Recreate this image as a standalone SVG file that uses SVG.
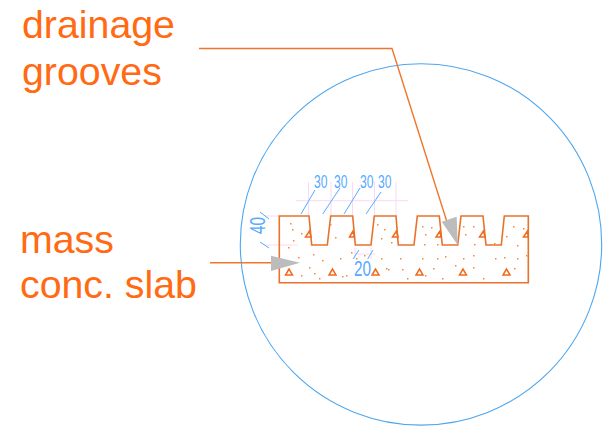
<svg xmlns="http://www.w3.org/2000/svg" width="604" height="427" viewBox="0 0 604 427">
<style>
.lbl{font-family:"Liberation Sans",Arial,sans-serif;font-size:39.300px;fill:#ff6a13}
.dim{font-family:"Liberation Sans",Arial,sans-serif;font-size:18.500px;fill:#55aaff}
.big{font-size:22px}
.o{fill:none;stroke:#e8722c;stroke-width:1.6}
.t{fill:none;stroke:#f26a1b;stroke-width:1.5}
.p{fill:none;stroke:#fbd8f5;stroke-width:1}
.b{fill:none;stroke:#55aaff;stroke-width:1}
.d{fill:#f4883f}
.h{fill:#bcbcbc}
.l{fill:none;stroke:#f0762c;stroke-width:1.4}
</style>
<rect width="604" height="427" fill="#fff"/>
<circle cx="421" cy="244.400" r="180.700" fill="none" stroke="#4ea6ee" stroke-width="1.100"/>
<g id="dimensions">
<path class="p" d="M296 200.700H408M308.500 182V216M331 182V216M352.500 182V216M374.500 182V216M396 182V216M265 216H279M265 245H298M355 254H375M355 248V259M371 248V259"/>
<path class="b" d="M301 214L315 190M322.700 214L340 188M344 214L360 188M366 214L381 192M260 212L269 219M260 242L269 248M353 259L359 250M367.700 259L373 250"/>
<text class="dim" transform="translate(314 188) scale(.655 1)">30</text>
<text class="dim" transform="translate(334 188) scale(.655 1)">30</text>
<text class="dim" transform="translate(360 188) scale(.655 1)">30</text>
<text class="dim" transform="translate(378 188) scale(.655 1)">30</text>
<text class="dim big" transform="translate(354 276) scale(.695 1)">20</text>
<text class="dim big" transform="translate(265 234) rotate(-90) scale(.695 1)">40</text>
</g>
<g id="slab">
<path class="o" d="M279.300 216V282.700H528.300V216H504.300L501.300 245H486L483 216H461L457.700 245H442.300L439.300 216H417.300L414 245H398.300L396 216H374.300L371 245H355.300L352.700 216H330.700L327.300 245H311.700L309 216Z"/>
<path class="t" d="M285.500 275H292.500L289 269ZM329 275H336L332.500 269ZM372 275H379L375.500 269ZM416 275H423L419.500 269ZM459.500 275H466.500L463 269ZM503 275H510L506.500 269Z"/>
<path class="t" d="M309.500 231L305.500 237H311ZM353 231L349.500 237H354.500ZM396.500 231L392.500 237H398ZM440 231L436 237H441ZM483.500 231L479.500 237H485ZM527.500 231L523.500 237H528.300Z"/>
<g class="d">
<rect x="290" y="223" width="1.500" height="1.500"/><rect x="292" y="229" width="1.500" height="1.500"/><rect x="301" y="233" width="1.500" height="1.500"/><rect x="288" y="247" width="1.500" height="1.500"/><rect x="293" y="240" width="1.500" height="1.500"/><rect x="298" y="257" width="1.500" height="1.500"/><rect x="313" y="254" width="1.500" height="1.500"/><rect x="309" y="267" width="1.500" height="1.500"/><rect x="314" y="273" width="1.500" height="1.500"/><rect x="319" y="278" width="1.500" height="1.500"/><rect x="301" y="275" width="1.500" height="1.500"/><rect x="322" y="260" width="1.500" height="1.500"/><rect x="340" y="258" width="1.500" height="1.500"/><rect x="330" y="224" width="1.500" height="1.500"/><rect x="335" y="237" width="1.500" height="1.500"/><rect x="346" y="275" width="1.500" height="1.500"/><rect x="342" y="276" width="1.500" height="1.500"/><rect x="351" y="252" width="1.500" height="1.500"/><rect x="356" y="258" width="1.500" height="1.500"/><rect x="364" y="255" width="1.500" height="1.500"/><rect x="377" y="224" width="1.500" height="1.500"/><rect x="384" y="229" width="1.500" height="1.500"/><rect x="381" y="238" width="1.500" height="1.500"/><rect x="381" y="258" width="1.500" height="1.500"/><rect x="386" y="268" width="1.500" height="1.500"/><rect x="391" y="242" width="1.500" height="1.500"/><rect x="388" y="269" width="1.500" height="1.500"/><rect x="400" y="258" width="1.500" height="1.500"/><rect x="402" y="269" width="1.500" height="1.500"/><rect x="407" y="278" width="1.500" height="1.500"/><rect x="422" y="226" width="1.500" height="1.500"/><rect x="425" y="234" width="1.500" height="1.500"/><rect x="424" y="244" width="1.500" height="1.500"/><rect x="422" y="258" width="1.500" height="1.500"/><rect x="425" y="275" width="1.500" height="1.500"/><rect x="431" y="227" width="1.500" height="1.500"/><rect x="437" y="244" width="1.500" height="1.500"/><rect x="437" y="258" width="1.500" height="1.500"/><rect x="433" y="268" width="1.500" height="1.500"/><rect x="445" y="256" width="1.500" height="1.500"/><rect x="442" y="278" width="1.500" height="1.500"/><rect x="455" y="265" width="1.500" height="1.500"/><rect x="463" y="226" width="1.500" height="1.500"/><rect x="473" y="226" width="1.500" height="1.500"/><rect x="465" y="234" width="1.500" height="1.500"/><rect x="474" y="244" width="1.500" height="1.500"/><rect x="463" y="258" width="1.500" height="1.500"/><rect x="473" y="255" width="1.500" height="1.500"/><rect x="473" y="267" width="1.500" height="1.500"/><rect x="483" y="278" width="1.500" height="1.500"/><rect x="494" y="243" width="1.500" height="1.500"/><rect x="495" y="258" width="1.500" height="1.500"/><rect x="504" y="257" width="1.500" height="1.500"/><rect x="513" y="226" width="1.500" height="1.500"/><rect x="506" y="236" width="1.500" height="1.500"/><rect x="517" y="245" width="1.500" height="1.500"/><rect x="517" y="258" width="1.500" height="1.500"/><rect x="514" y="268" width="1.500" height="1.500"/><rect x="526" y="255" width="1.500" height="1.500"/><rect x="523" y="228" width="1.500" height="1.500"/></g>
</g>
<g id="connectors">
<path class="l" d="M199 48.500H392L447 222"/>
<path class="l" d="M210 262.800H272"/>
<path class="h" d="M441.700 221.700L456.700 216.700L457.700 245Z"/>
<path class="h" d="M271 255.700L300 262.700L271 271Z"/>
</g>
<g id="label-drainage">
<text class="lbl" x="22" y="37.800">drainage</text>
<text class="lbl" x="22" y="85">grooves</text>
</g>
<g id="label-slab">
<text class="lbl" x="20" y="252.800">mass</text>
<text class="lbl" x="20" y="298">conc. slab</text>
</g>
</svg>
